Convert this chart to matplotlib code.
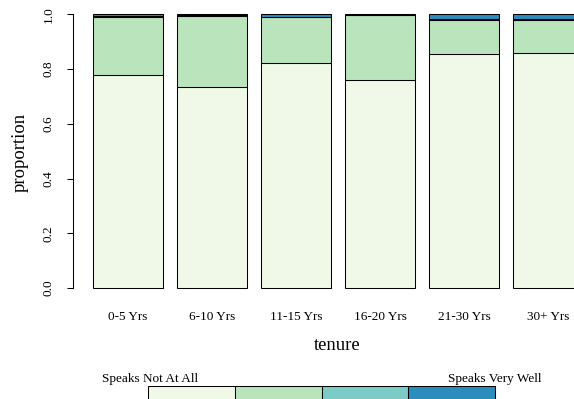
import matplotlib
matplotlib.use("Agg")
import matplotlib.pyplot as plt
from matplotlib.patches import Rectangle
import numpy as np

plt.rcParams["font.family"] = ["Liberation Serif", "DejaVu Serif"]

# Stacked proportions of English proficiency by tenure
tenure = ["0-5 Yrs", "6-10 Yrs", "11-15 Yrs", "16-20 Yrs", "21-30 Yrs", "30+ Yrs"]
not_at_all = [0.779, 0.733, 0.821, 0.760, 0.855, 0.859]
not_well   = [0.211, 0.262, 0.169, 0.236, 0.125, 0.119]
well       = [0.004, 0.002, 0.002, 0.002, 0.004, 0.004]
very_well  = [0.006, 0.003, 0.008, 0.002, 0.016, 0.018]
levels = [not_at_all, not_well, well, very_well]
colors = ["#f0f9e8", "#bae4bc", "#7bccc4", "#2b8cbe"]
legend_left_text = "Speaks Not At All"
legend_right_text = "Speaks Very Well"

W, H = 574, 399
fig = plt.figure(figsize=(W / 100, H / 100), dpi=100)

# plot region in pixels (extends past the right edge like the original device)
x0, x1 = 73.4, 602.6
y_top, y_bot = 3.4, 299.0
ax = fig.add_axes([x0 / W, 1 - y_bot / H, (x1 - x0) / W, (y_bot - y_top) / H])

n = len(tenure)
width = 1.0
space = 0.2
lefts = space + np.arange(n) * (width + space)
centers = lefts + width / 2

bottom = np.zeros(n)
for vals, col in zip(levels, colors):
    vals = np.asarray(vals)
    ax.bar(lefts, vals, width=width, bottom=bottom, align="edge",
           color=col, edgecolor="black", linewidth=0.75)
    bottom += vals

ax.set_xlim(-0.08, 7.48)
ax.set_ylim(-0.04, 1.04)

for s in ["top", "right", "bottom"]:
    ax.spines[s].set_visible(False)
ax.spines["left"].set_bounds(0, 1)
ax.spines["left"].set_linewidth(0.75)

ax.set_yticks([0, 0.2, 0.4, 0.6, 0.8, 1.0])
ax.set_yticklabels(["0.0", "0.2", "0.4", "0.6", "0.8", "1.0"],
                   rotation=90, va="center", fontsize=9.5)
ax.tick_params(axis="y", length=4.3, width=0.75, pad=9.0)

ax.set_xticks(centers)
ax.set_xticklabels(tenure, fontsize=9.5)
ax.tick_params(axis="x", length=0, pad=9.0)

fig.text(337 / W, 1 - 345 / H, "tenure", ha="center", va="center", fontsize=13.4)
fig.text(20 / W, 1 - 152.5 / H, "proportion", ha="center", va="center",
         rotation=90, fontsize=13.4)

# colour key below the plot
lg = fig.add_axes([0, 0, 1, 1])
lg.set_xlim(0, W)
lg.set_ylim(H, 0)
lg.axis("off")
kx0, kx1 = 148.3, 495.0
kw = (kx1 - kx0) / len(colors)
for i, col in enumerate(colors):
    lg.add_patch(Rectangle((kx0 + i * kw, 386), kw, 16, facecolor=col,
                           edgecolor="black", linewidth=0.75, clip_on=False))
lg.text(101.7, 379, legend_left_text, ha="left", va="center", fontsize=9.5)
lg.text(541.7, 379, legend_right_text, ha="right", va="center", fontsize=9.5)

fig.savefig("out.png", dpi=100)
